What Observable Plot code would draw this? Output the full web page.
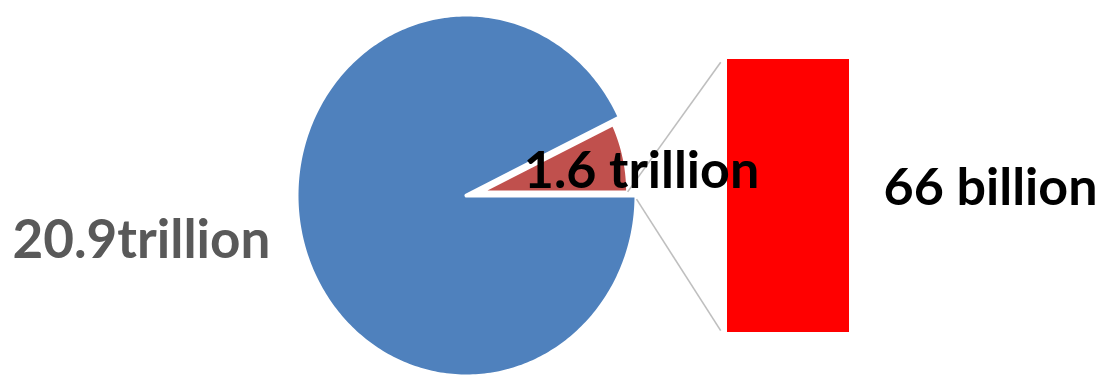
<!DOCTYPE html>
<html><head><meta charset="utf-8">
<script src="https://cdn.jsdelivr.net/npm/d3@7"></script>
<script src="https://cdn.jsdelivr.net/npm/@observablehq/plot@0.6"></script>
<style>html,body{margin:0;padding:0;background:#fff;overflow:hidden}</style>
</head><body><div id="chart"></div>
<script>
// ---- data ----
const pieCategories = ["Rest", "Split"];
const pieValues = [20.9, 1.6];            // trillion
const pieLabels = ["20.9trillion", "1.6 trillion"];
const barCategories = ["Detail"];
const barValues = [66];                   // billion
const barLabels = ["66 billion"];

// ---- style / layout ----
const pieColors = ["#4F81BD", "#C0504D"];
const barColor = "#FF0000";
const W = 1106, H = 376;
const cx = 466, cy = 195, rx = 170, ry = 181;      // pie centre & radii in px
const xDomain = [-cx / rx, (W - cx) / rx];
const yDomain = [-(H - cy) / ry, cy / ry];
const px2x = p => (p - cx) / rx;
const px2y = p => (cy - p) / ry;

const total = d3.sum(pieValues);
const splitAngle = 2 * Math.PI * pieValues[1] / total;
const explode = 0.09, redRadius = 0.86;
const mid = splitAngle / 2;
const ox = explode * Math.cos(mid), oy = explode * Math.sin(mid);

function wedge(a0, a1, r, x0, y0, key) {
  const n = Math.max(2, Math.ceil((a1 - a0) / (Math.PI / 180)));
  const pts = [{key, x: x0, y: y0}];
  for (let i = 0; i <= n; i++) {
    const a = a0 + (a1 - a0) * i / n;
    pts.push({key, x: x0 + r * Math.cos(a), y: y0 + r * Math.sin(a)});
  }
  pts.push({key, x: x0, y: y0});
  return pts;
}
const bluePts = wedge(splitAngle, 2 * Math.PI, 1, 0, 0, pieCategories[0]);
const redPts = wedge(0, splitAngle, redRadius, ox, oy, pieCategories[1]);

// bar of pie
const barX1 = px2x(727), barX2 = px2x(849);
const barBottom = px2y(332), barTop = px2y(59);
const barTotal = d3.sum(barValues);
let acc = 0;
const barData = barValues.map((v, i) => {
  const y1 = barBottom + (barTop - barBottom) * acc / barTotal;
  acc += v;
  const y2 = barBottom + (barTop - barBottom) * acc / barTotal;
  return {cat: barCategories[i], value: v, y1, y2};
});

const gap = 0.04;
const connectors = [
  {x1: ox + redRadius, y1: oy, x2: barX1 - gap, y2: barTop - 0.015},
  {x1: 1, y1: -0.02, x2: barX1 - gap, y2: barBottom + 0.01}
];

const labelData = [
  {text: pieLabels[0], x: px2x(12), y: px2y(241), color: "#595959", anchor: "start", size: 53},
  {text: pieLabels[1], x: px2x(641), y: px2y(171), color: "#000000", anchor: "middle", size: 52},
  {text: barLabels[0], x: px2x(990), y: px2y(188), color: "#000000", anchor: "middle", size: 52}
];

const chart = Plot.plot({
  width: W, height: H, margin: 0,
  style: {background: "white"},
  x: {domain: xDomain, axis: null},
  y: {domain: yDomain, axis: null},
  marks: [
    Plot.line(bluePts, {x: "x", y: "y", fill: pieColors[0], stroke: "white", strokeWidth: 4, strokeLinejoin: "round"}),
    Plot.line(redPts, {x: "x", y: "y", fill: pieColors[1], stroke: "white", strokeWidth: 3, strokeLinejoin: "round"}),
    Plot.link(connectors, {x1: "x1", y1: "y1", x2: "x2", y2: "y2", stroke: "#BFBFBF", strokeWidth: 1.6}),
    Plot.rect(barData, {x1: barX1, x2: barX2, y1: "y1", y2: "y2", fill: barColor}),
    ...labelData.map(d => Plot.text([d], {x: "x", y: "y", text: "text", fill: d.color, textAnchor: d.anchor,
      fontFamily: "Lato, 'Open Sans', sans-serif", fontWeight: "bold", fontSize: d.size}))
  ]
});
document.getElementById("chart").appendChild(chart);
</script>
</body></html>
